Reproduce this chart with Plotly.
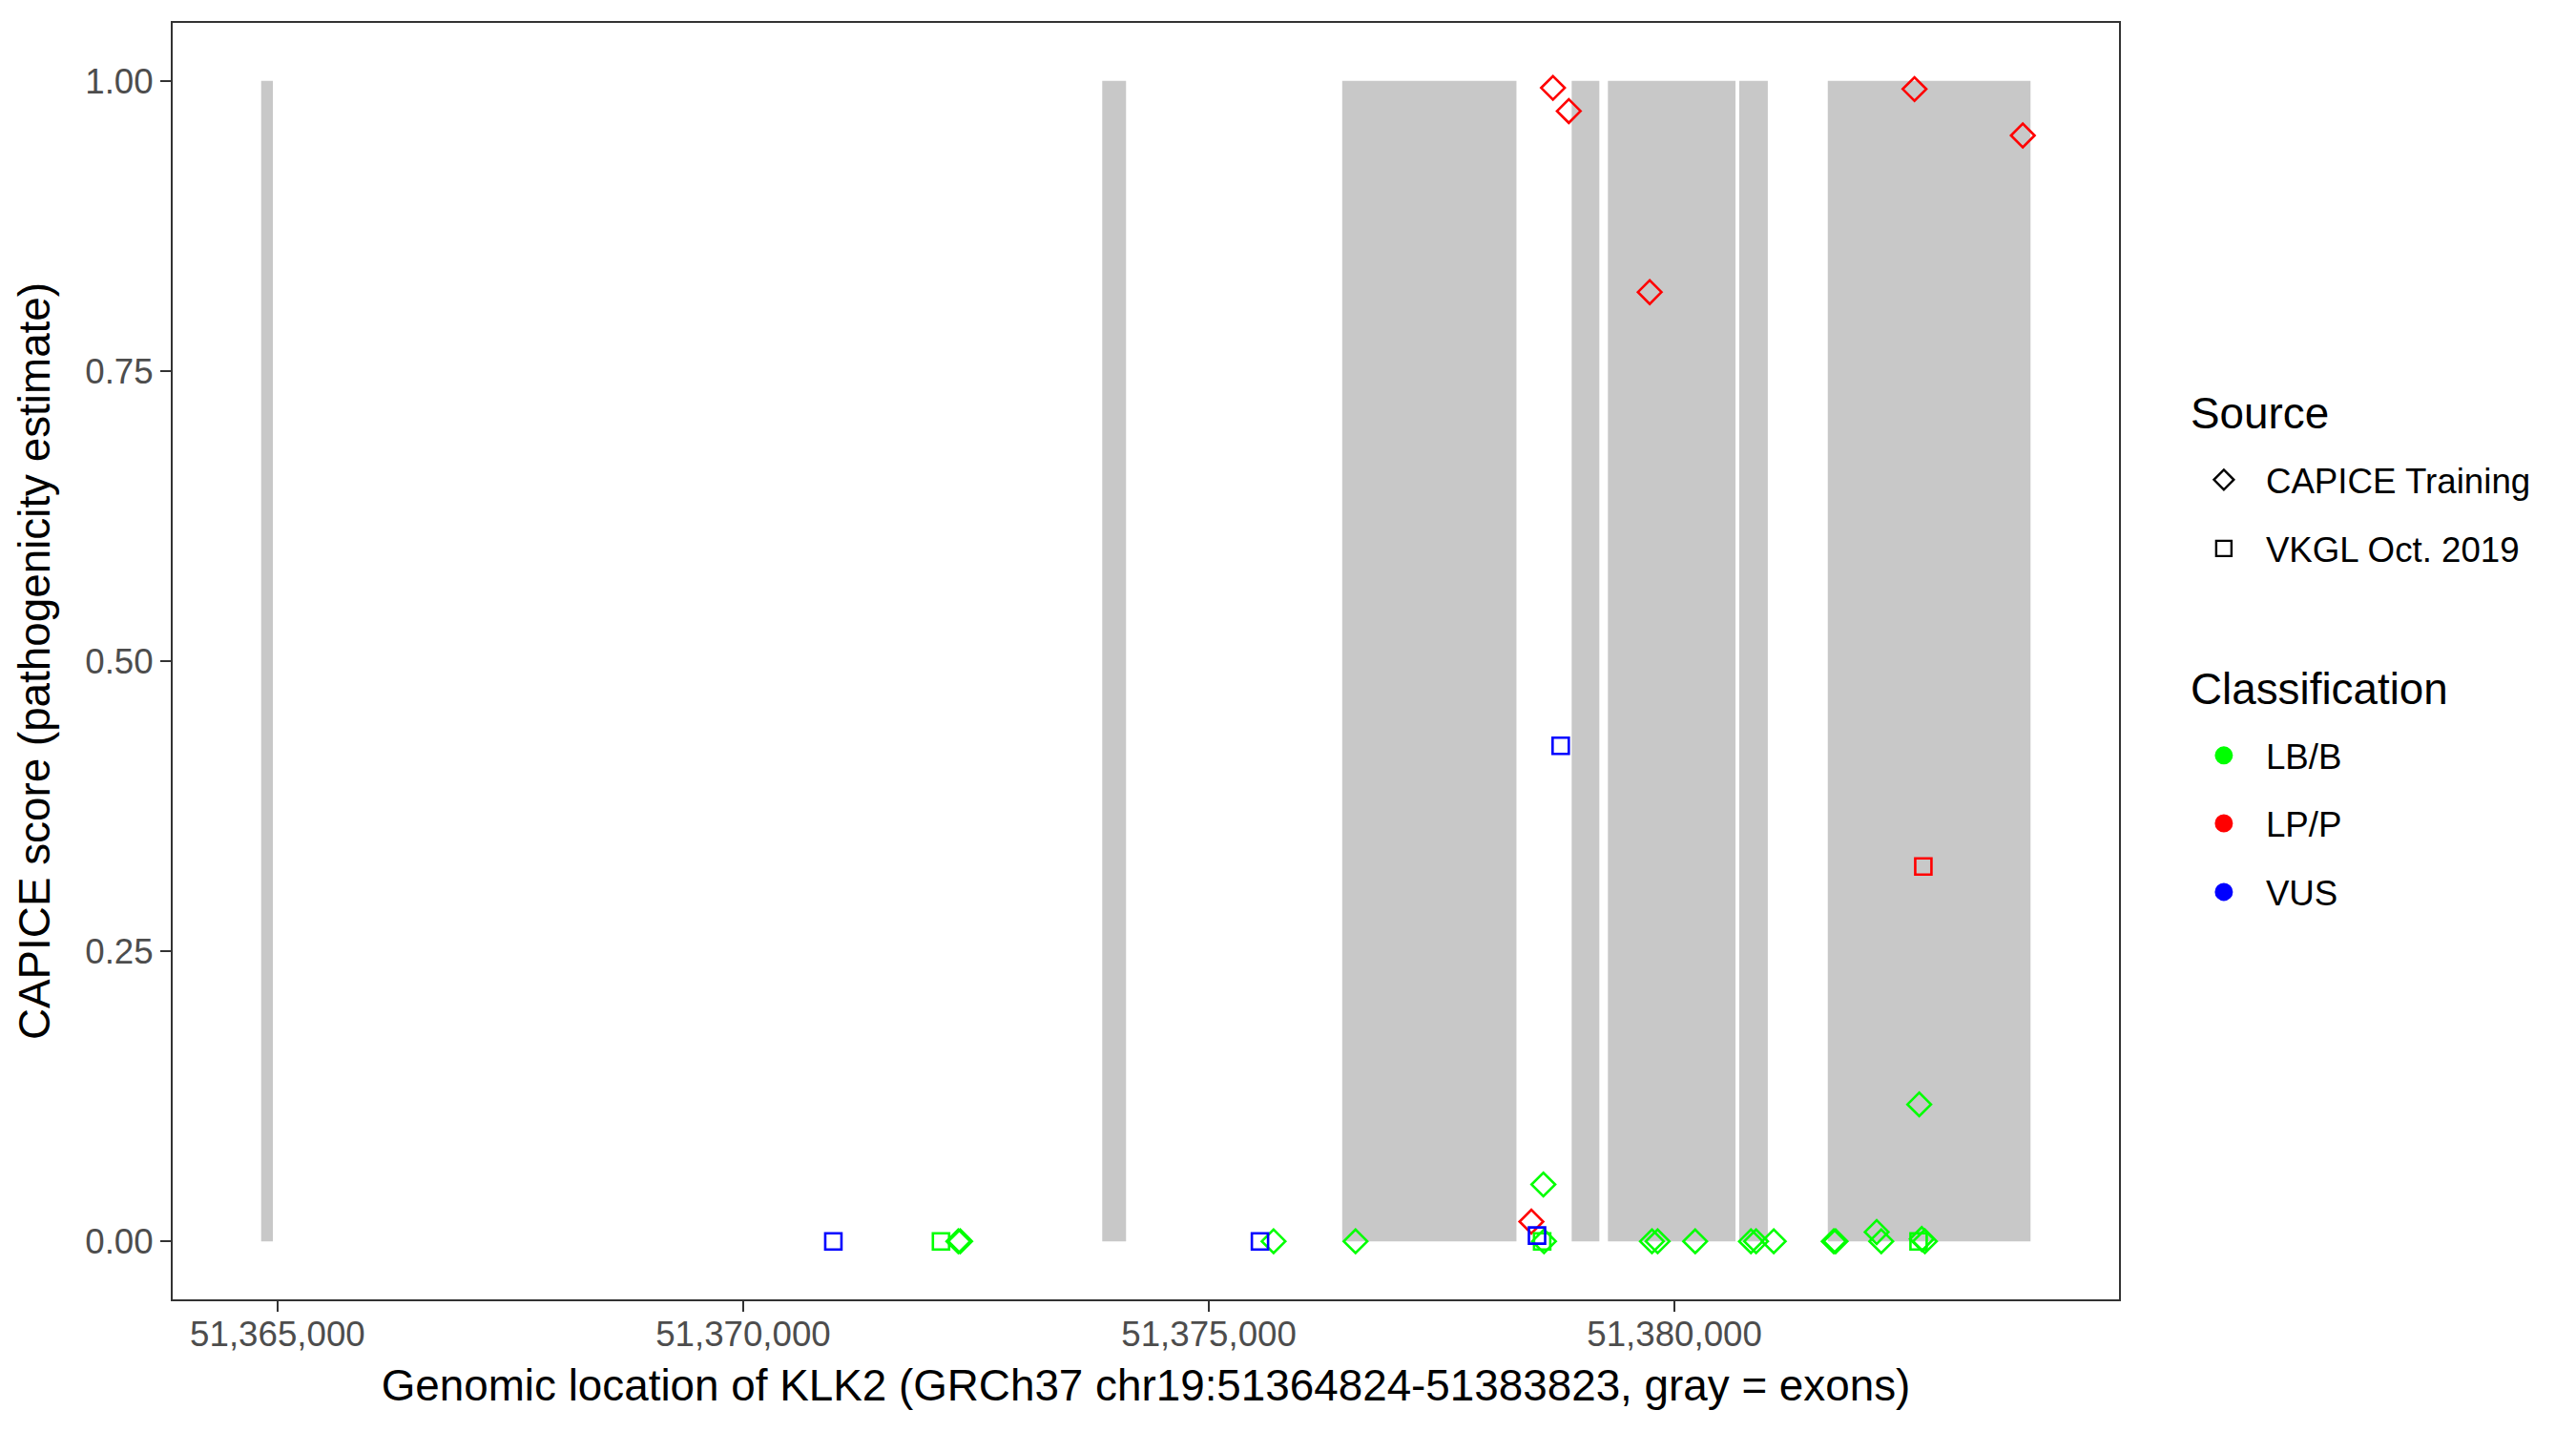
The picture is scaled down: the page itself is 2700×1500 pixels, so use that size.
import plotly.graph_objects as go

# ---------------- data ----------------
exon_start = [51364824, 51373855, 51376432, 51378896, 51379285, 51380695, 51381646]
exon_end   = [51364950, 51374111, 51378303, 51379193, 51380655, 51381002, 51383823]

capice_pos = [51372310, 51372330, 51375695, 51376575, 51378592, 51378599, 51379758,
              51379819, 51380222, 51380821, 51380876, 51381066, 51381710, 51381730,
              51382171, 51382220, 51382628, 51382655, 51382689,
              51378463, 51378695, 51378865, 51379734, 51382577, 51383740]
capice_score = [0.0, 0.0, 0.0, 0.0, 0.049, 0.0, 0.0,
                0.0, 0.0, 0.0, 0.0, 0.0, 0.0, 0.0,
                0.008, 0.0, 0.118, 0.002, 0.0,
                0.017, 0.994, 0.974, 0.818, 0.993, 0.953]
capice_class = ["LB/B"] * 19 + ["LP/P"] * 6

vkgl_pos = [51372124, 51378579, 51382621, 51382672, 51370968, 51375549, 51378524, 51378778]
vkgl_score = [0.0, 0.0, 0.0, 0.323, 0.0, 0.0, 0.005, 0.427]
vkgl_class = ["LB/B", "LB/B", "LB/B", "LP/P", "VUS", "VUS", "VUS", "VUS"]

classes = ["LB/B", "LP/P", "VUS"]
class_colors = {"LB/B": "#00FF00", "LP/P": "#FF0000", "VUS": "#0000FF"}
sources = ["CAPICE Training", "VKGL Oct. 2019"]

x_ticks = [51365000, 51370000, 51375000, 51380000]
y_ticks = [0.0, 0.25, 0.5, 0.75, 1.0]
y_ticklabels = ["0.00", "0.25", "0.50", "0.75", "1.00"]

gene_start, gene_end = 51364824, 51383823

FONT = "Liberation Sans, Arial, Helvetica, sans-serif"
TICK_SIZE = 36.7
TITLE_SIZE = 45.8

fig = go.Figure()

# points
for src, pos, score, cls, sym, size in [
    ("CAPICE Training", capice_pos, capice_score, capice_class, "diamond-open", 19),
    ("VKGL Oct. 2019", vkgl_pos, vkgl_score, vkgl_class, "square-open", 17),
]:
    for c in classes:
        xs = [p for p, k in zip(pos, cls) if k == c]
        ys = [s for s, k in zip(score, cls) if k == c]
        if not xs:
            continue
        fig.add_trace(go.Scatter(
            x=xs, y=ys, mode="markers", showlegend=False,
            marker=dict(symbol=sym, size=size, color=class_colors[c],
                        line=dict(width=2.6, color=class_colors[c])),
            hoverinfo="x+y",
        ))

# legend entries (one legend per entry for exact placement)
legend_items = [
    ("CAPICE Training", "diamond-open", "black", "legend", 0.6420),
    ("VKGL Oct. 2019", "square-open", "black", "legend2", 0.5882),
    ("LB/B", "circle", class_colors["LB/B"], "legend3", 0.4260),
    ("LP/P", "circle", class_colors["LP/P"], "legend4", 0.3729),
    ("VUS", "circle", class_colors["VUS"], "legend5", 0.3191),
]
legend_x = 1.0323
for name, sym, col, lg, ly in legend_items:
    fig.add_trace(go.Scatter(
        x=[None], y=[None], mode="markers", name=name, legend=lg,
        marker=dict(symbol=sym, size=16, color=col,
                    line=dict(width=2.4 if "open" in sym else 3, color=col)),
    ))
    fig.update_layout(**{lg: dict(
        x=legend_x, y=ly, xanchor="left", yanchor="middle",
        bgcolor="rgba(0,0,0,0)", borderwidth=0, itemwidth=78,
        font=dict(family=FONT, size=TICK_SIZE, color="black"),
    )})

# exons
for s, e in zip(exon_start, exon_end):
    fig.add_shape(type="rect", xref="x", yref="y", x0=s, x1=e, y0=0, y1=1,
                  fillcolor="#C8C8C8", line=dict(width=0), layer="below")

pad = 0.05 * (gene_end - gene_start)
fig.update_layout(
    width=2700, height=1500,
    margin=dict(l=173, r=487, t=16, b=146),
    paper_bgcolor="white", plot_bgcolor="white",
    font=dict(family=FONT, color="black"),
    annotations=[
        dict(text="Source", xref="paper", yref="paper", x=1.0358, y=0.6936,
             xanchor="left", yanchor="middle", showarrow=False,
             font=dict(family=FONT, size=TITLE_SIZE, color="black")),
        dict(text="Classification", xref="paper", yref="paper", x=1.0358, y=0.4776,
             xanchor="left", yanchor="middle", showarrow=False,
             font=dict(family=FONT, size=TITLE_SIZE, color="black")),
    ],
)
fig.update_xaxes(
    range=[gene_start - pad, gene_end + pad],
    tickvals=x_ticks, tickformat=",d",
    showgrid=False, zeroline=False,
    showline=True, mirror=True, linecolor="#333333", linewidth=2,
    ticks="outside", ticklen=11, tickwidth=2, tickcolor="#333333",
    ticklabelstandoff=-8,
    tickfont=dict(family=FONT, size=TICK_SIZE, color="#4D4D4D"),
    title=dict(text="Genomic location of KLK2 (GRCh37 chr19:51364824-51383823, gray = exons)",
               font=dict(family=FONT, size=TITLE_SIZE, color="black"), standoff=18),
    automargin=False,
)
fig.update_yaxes(
    range=[-0.05, 1.05],
    tickvals=y_ticks, ticktext=y_ticklabels,
    showgrid=False, zeroline=False,
    showline=True, mirror=True, linecolor="#333333", linewidth=2,
    ticks="outside", ticklen=11, tickwidth=2, tickcolor="#333333",
    tickfont=dict(family=FONT, size=TICK_SIZE, color="#4D4D4D"),
    title=dict(text="CAPICE score (pathogenicity estimate)",
               font=dict(family=FONT, size=TITLE_SIZE, color="black"), standoff=22),
    automargin=False,
)

fig.write_html("out.html")
